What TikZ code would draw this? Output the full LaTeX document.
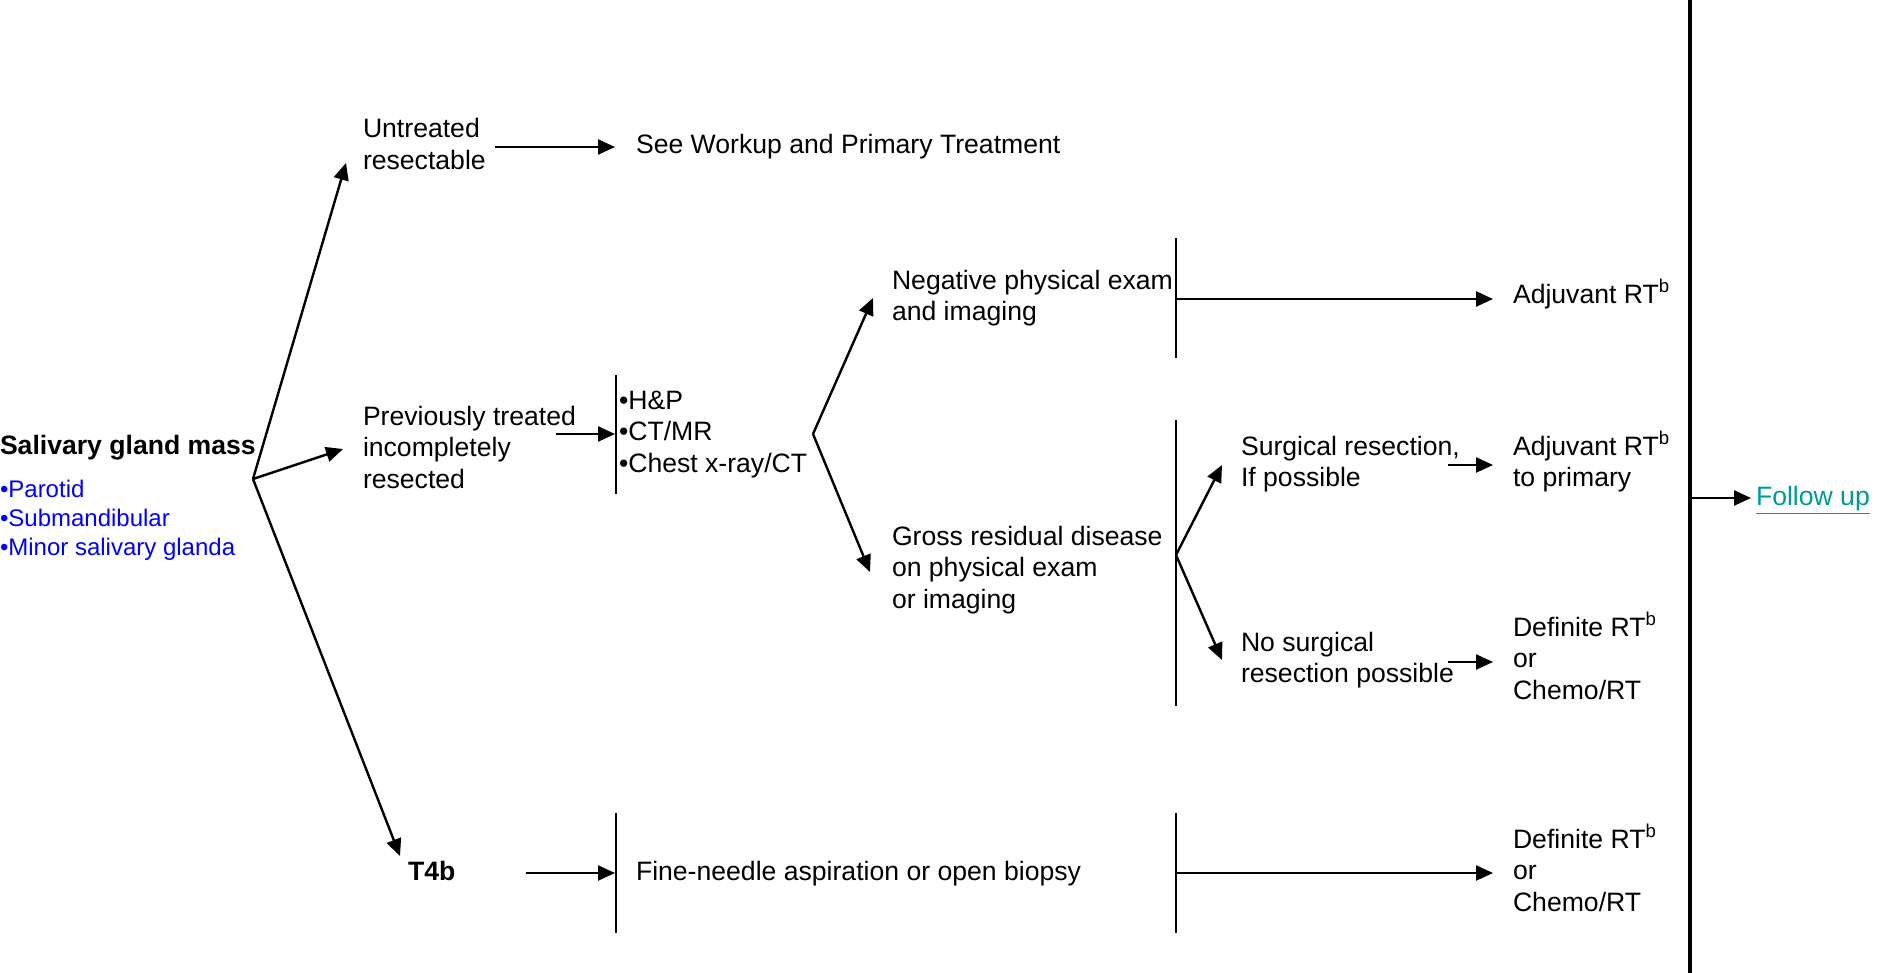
\documentclass[tikz,border=0pt]{standalone}
\usepackage{fontspec}
\setmainfont{Liberation Sans}
\usetikzlibrary{arrows.meta}
\definecolor{listblue}{RGB}{0,0,255}
\definecolor{linkteal}{RGB}{0,153,153}
% left-aligned block of lines whose baseline is the first line's baseline
\newcommand\stack[1]{\begin{tabular}[t]{@{}l@{}}#1\end{tabular}}

\begin{document}
\begin{tikzpicture}[x=0.5pt,y=-0.5pt,
  txt/.style={anchor=base west,inner sep=0pt,outer sep=0pt,
              font=\fontsize{13.3}{15.75}\selectfont},
  bold/.style={txt,font=\fontsize{13.3}{15.75}\selectfont\bfseries},
  sites/.style={txt,font=\fontsize{12}{14.5}\selectfont,text=listblue},
  flow/.style={line width=1.2pt,-{Triangle[length=8.5pt,width=7.5pt]}},
  bar/.style={line width=0.9pt},
  rail/.style={line width=1.6pt}]

\useasboundingbox (0,0) rectangle (1878,973);

% ---- text ----
\node[bold]  (salivary)  at (0,454)    {Salivary gland mass};
\node[sites] (siteslist) at (0,497)    {\stack{\textbullet Parotid\\\textbullet Submandibular\\\textbullet Minor salivary glanda}};

\node[txt] (untreated)   at (363,138)  {\stack{Untreated\\resectable}};
\node[txt] (workup)      at (636,154)  {See Workup and Primary Treatment};

\node[txt] (prevtreated) at (363,425)  {\stack{Previously treated\\incompletely\\resected}};
\node[txt] (exams)       at (619,409)  {\stack{\textbullet H\&P\\\textbullet CT/MR\\\textbullet Chest x-ray/CT}};

\node[txt] (negative)    at (892,289)  {\stack{Negative physical exam\\and imaging}};
\node[txt] (gross)       at (892,545)  {\stack{Gross residual disease\\on physical exam\\or imaging}};

\node[txt] (surgical)    at (1241,455) {\stack{Surgical resection,\\If possible}};
\node[txt] (nosurg)      at (1241,651) {\stack{No surgical\\resection possible}};

\node[txt] (adjrt)       at (1513,303) {Adjuvant RT\textsuperscript{b}};
\node[txt] (adjprim)     at (1513,455) {\stack{Adjuvant RT\textsuperscript{b}\\to primary}};
\node[txt] (defrtA)      at (1513,636) {\stack{Definite RT\textsuperscript{b}\\or\\Chemo/RT}};

\node[bold] (t4b)        at (408,880)  {T4b};
\node[txt]  (fna)        at (636,880)  {Fine-needle aspiration or open biopsy};
\node[txt]  (defrtB)     at (1513,848) {\stack{Definite RT\textsuperscript{b}\\or\\Chemo/RT}};

\node[txt,text=linkteal] (followup) at (1756,505) {\underline{Follow up}};

% ---- junction points ----
\coordinate (root)     at (253,479);
\coordinate (toUntr)   at (346,163);
\coordinate (toPrev)   at (343,449);
\coordinate (toT4b)    at (400,856);

\coordinate (untrOut)  at (495,147);
\coordinate (untrIn)   at (615,147);

\coordinate (prevOut)  at (556,434);
\coordinate (examTop)  at (616,375);
\coordinate (examBot)  at (616,494);
\coordinate (examIn)   at (615,434);

\coordinate (split)    at (813,434);
\coordinate (toNeg)    at (873,298);
\coordinate (toGross)  at (870,572);

\coordinate (negTop)   at (1176,238);
\coordinate (negBot)   at (1176,358);
\coordinate (negOut)   at (1176,299);
\coordinate (adjIn)    at (1493,299);

\coordinate (grossTop) at (1176,420);
\coordinate (grossBot) at (1176,706);
\coordinate (grossOut) at (1176,555);
\coordinate (toSurg)   at (1222,465);
\coordinate (toNoSurg) at (1222,660);

\coordinate (surgOut)  at (1448,465);
\coordinate (surgIn)   at (1493,465);
\coordinate (noOut)    at (1448,662);
\coordinate (noIn)     at (1493,662);

\coordinate (t4bOut)   at (526,873);
\coordinate (fnaIn)    at (615,873);
\coordinate (fnaTop)   at (616,813);
\coordinate (fnaBot)   at (616,933);
\coordinate (biopTop)  at (1176,813);
\coordinate (biopBot)  at (1176,933);
\coordinate (biopOut)  at (1176,873);
\coordinate (defIn)    at (1493,873);

\coordinate (railTop)  at (1690,0);
\coordinate (railBot)  at (1690,973);
\coordinate (railOut)  at (1690,498);
\coordinate (followIn) at (1751,498);

% ---- connectors ----
\draw[flow] (root) -- (toUntr);
\draw[flow] (root) -- (toPrev);
\draw[flow] (root) -- (toT4b);

\draw[flow] (untrOut) -- (untrIn);

\draw[flow] (prevOut) -- (examIn);
\draw[bar]  (examTop) -- (examBot);

\draw[flow] (split) -- (toNeg);
\draw[flow] (split) -- (toGross);

\draw[bar]  (negTop) -- (negBot);
\draw[flow] (negOut) -- (adjIn);

\draw[bar]  (grossTop) -- (grossBot);
\draw[flow] (grossOut) -- (toSurg);
\draw[flow] (grossOut) -- (toNoSurg);
\draw[flow] (surgOut) -- (surgIn);
\draw[flow] (noOut) -- (noIn);

\draw[flow] (t4bOut) -- (fnaIn);
\draw[bar]  (fnaTop) -- (fnaBot);
\draw[bar]  (biopTop) -- (biopBot);
\draw[flow] (biopOut) -- (defIn);

\draw[rail] (railTop) -- (railBot);
\draw[flow] (railOut) -- (followIn);
\end{tikzpicture}
\end{document}
